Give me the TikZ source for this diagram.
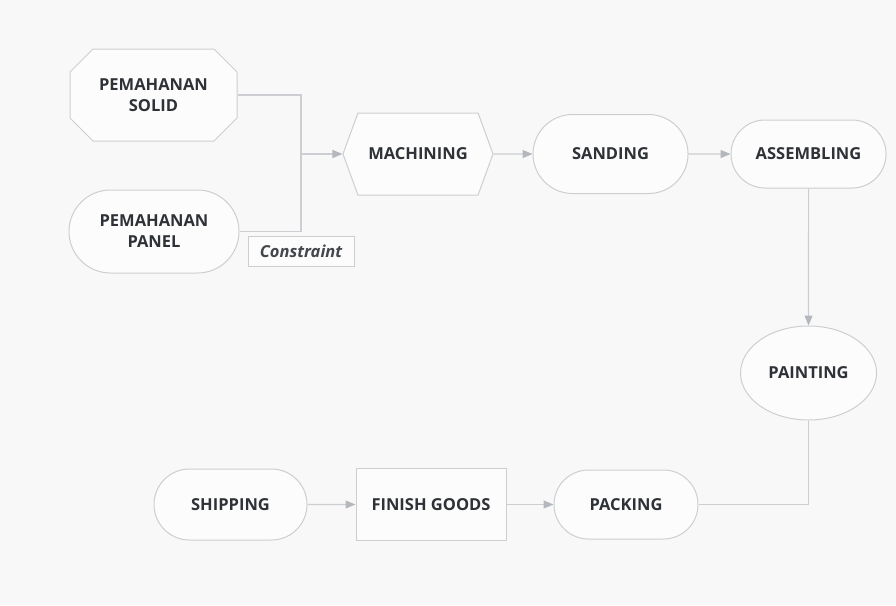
\documentclass[tikz,border=0pt]{standalone}
\usepackage{fontspec}
\setmainfont{Open Sans}
\usetikzlibrary{positioning, shapes.misc, shapes.symbols, shapes.geometric, arrows.meta}

\definecolor{pagebg}{RGB}{248,248,248}
\definecolor{boxfill}{RGB}{252,252,252}
\definecolor{edgegray}{RGB}{204,206,209}
\definecolor{tipgray}{RGB}{180,184,188}
\definecolor{inkdark}{RGB}{46,49,54}

\tikzset{
  outline/.style={draw=edgegray, fill=boxfill, line width=1pt},
  base/.style={outline, text=inkdark,
    font=\fontsize{16.5}{21}\selectfont\bfseries, align=center, inner sep=0pt},
  pill/.style={base, rounded rectangle, minimum width=155pt, minimum height=79pt},
  hexbox/.style={base, signal, signal to=east and west, signal pointer angle=140,
    minimum width=150pt, minimum height=82pt},
  boxnode/.style={base, rectangle, minimum width=150pt, minimum height=72pt},
  oval/.style={base, ellipse, minimum width=136pt, minimum height=94pt},
  note/.style={outline, text=inkdark!90, inner sep=0pt,
    font=\fontsize{16.5}{20}\selectfont\bfseries\itshape, minimum width=106pt, minimum height=30pt},
  link/.style={draw=edgegray, line width=1.1pt},
  flow/.style={link, -{Triangle[length=10pt, width=8pt, color=tipgray]}}
}

\begin{document}
\begin{tikzpicture}[x=1pt, y=-1pt]
	\fill[pagebg] (0,0) rectangle (896,605);
	\useasboundingbox (0,0) rectangle (896,605);

	% octagon drawn by hand, node on top of it
	\filldraw[outline] (93,49) -- (214,49) -- (237,72) -- (237,118) -- (214,141)
	    -- (93,141) -- (70,118) -- (70,72) -- cycle;
	\node[base, draw=none, fill=none, minimum width=167pt, minimum height=92pt] (solid) at (153.5,95) {PEMAHANAN\\SOLID};
	\node[pill, minimum width=170pt, minimum height=83pt] (panel) at (154,231.5) {PEMAHANAN\\PANEL};
	\node[note] (constraint) at (301,251) {Constraint};
	\coordinate (join) at (301,154);

	\node[hexbox] (machining) at (418,154) {MACHINING};
	\node[pill] (sanding) [right=39pt of machining] {SANDING};
	\node[pill, minimum height=68pt] (assembling) [right=42pt of sanding] {ASSEMBLING};
	\node[oval] (painting) [below=137pt of assembling] {PAINTING};

	\node[pill, minimum width=144pt, minimum height=69pt] (packing) at (626,504.5) {PACKING};
	\node[boxnode] (finish) [left=47pt of packing] {FINISH GOODS};
	\node[pill, minimum width=153pt, minimum height=71pt] (shipping) [left=48pt of finish] {SHIPPING};

	\draw[link] (solid.east) -| (join) |- (panel.east);
	\path
	    (join) edge[flow] (machining.west)
	    (machining) edge[flow] (sanding)
	    (sanding) edge[flow] (assembling)
	    (assembling) edge[flow] (painting)
	    (shipping) edge[flow] (finish)
	    (finish) edge[flow] (packing);
	\draw[link] (painting.south) |- (packing.east);
\end{tikzpicture}
\end{document}
